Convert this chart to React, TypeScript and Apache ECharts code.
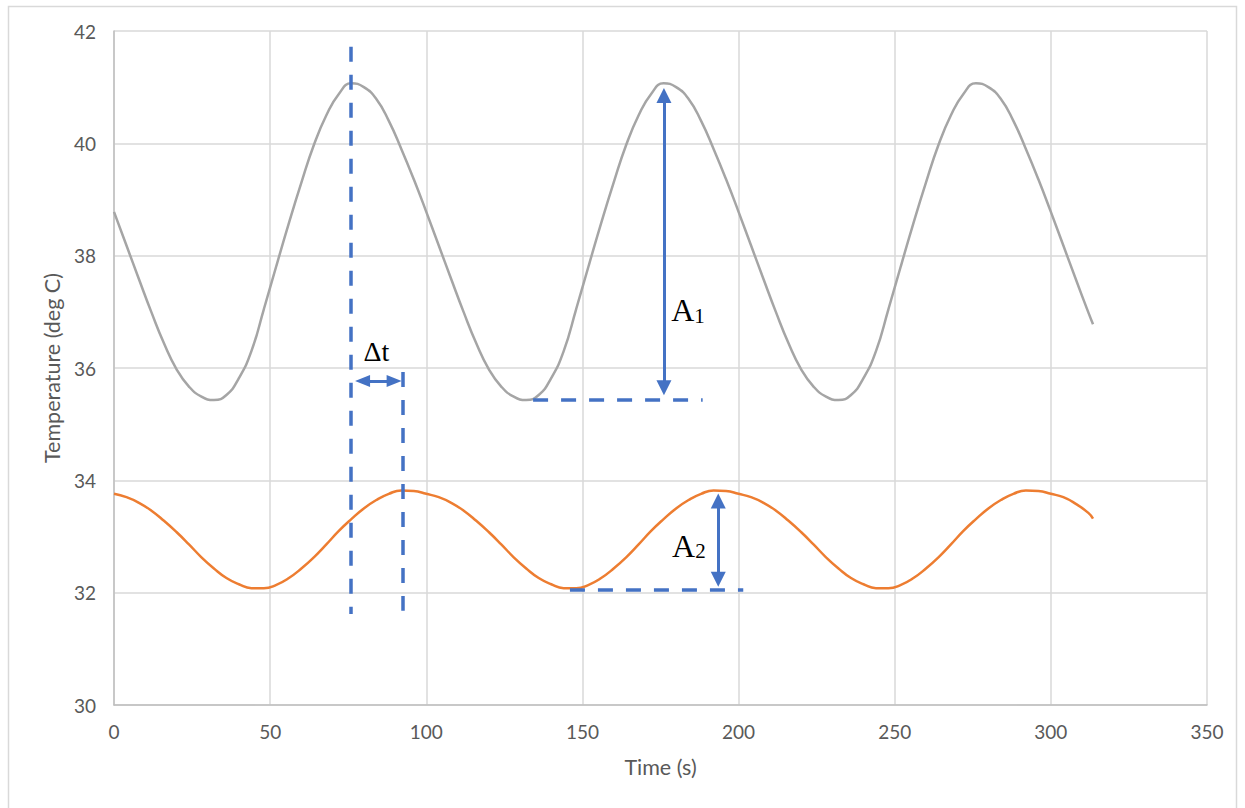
import React, { useEffect, useRef } from "react";
import * as echarts from "echarts";

// Time samples (s)
const timeS = [
  0, 4, 8, 12, 16, 20, 24, 28, 32, 36, 40, 44, 48, 52, 56, 60, 64, 68, 72, 76, 80, 84, 88, 92, 96,
  100, 104, 108, 112, 116, 120, 124, 128, 132, 136, 140, 144, 148, 152, 156, 160, 164, 168, 172, 176, 180, 184, 188, 192, 196,
  200, 204, 208, 212, 216, 220, 224, 228, 232, 236, 240, 244, 248, 252, 256, 260, 264, 268, 272, 276, 280, 284, 288, 292, 296,
  300, 304, 308, 312, 313.5,
];

// Grey curve (deg C)
const greyTemp = [
  38.78, 38.18, 37.58, 36.99, 36.44, 35.98, 35.67, 35.49, 35.43, 35.52, 35.82, 36.3, 37.05, 37.82, 38.58, 39.3, 39.97, 40.5, 40.88, 41.07, 41.0, 40.79, 40.4, 39.9, 39.36,
  38.78, 38.18, 37.58, 36.99, 36.44, 35.98, 35.67, 35.49, 35.43, 35.52, 35.82, 36.3, 37.05, 37.82, 38.58, 39.3, 39.97, 40.5, 40.88, 41.07, 41.0, 40.79, 40.4, 39.9, 39.36,
  38.78, 38.18, 37.58, 36.99, 36.44, 35.98, 35.67, 35.49, 35.43, 35.52, 35.82, 36.3, 37.05, 37.82, 38.58, 39.3, 39.97, 40.5, 40.88, 41.07, 41.0, 40.79, 40.4, 39.9, 39.36,
  38.78, 38.18, 37.58, 36.99, 36.78,
];

// Orange curve (deg C)
const orangeTemp = [
  33.76, 33.7, 33.6, 33.46, 33.28, 33.08, 32.86, 32.63, 32.43, 32.26, 32.15, 32.08, 32.08, 32.14, 32.26, 32.43, 32.63, 32.86, 33.1, 33.31, 33.5, 33.65, 33.76, 33.82, 33.81,
  33.76, 33.7, 33.6, 33.46, 33.28, 33.08, 32.86, 32.63, 32.43, 32.26, 32.15, 32.08, 32.08, 32.14, 32.26, 32.43, 32.63, 32.86, 33.1, 33.31, 33.5, 33.65, 33.76, 33.82, 33.81,
  33.76, 33.7, 33.6, 33.46, 33.28, 33.08, 32.86, 32.63, 32.43, 32.26, 32.15, 32.08, 32.08, 32.14, 32.26, 32.43, 32.63, 32.86, 33.1, 33.31, 33.5, 33.65, 33.76, 33.82, 33.81,
  33.76, 33.7, 33.58, 33.42, 33.32,
];

// Axis ranges
const xRange = [0, 350, 50];
const yRange = [30, 42, 2];

// Annotation geometry in data units [t, T]
const dashedLines = [
  [[75.9, 41.72], [75.9, 31.62]],
  [[92.4, 35.93], [92.4, 31.68]],
  [[134.2, 35.43], [188.5, 35.43]],
  [[146, 32.06], [201.5, 32.06]],
];
const arrowLines = [
  [[79.6, 35.77], [89.7, 35.77]],
  [[176.1, 40.85], [176.1, 35.65]],
  [[193.5, 33.63], [193.5, 32.24]],
];
const labelPos = {
  dt: [84.0, 36.3],
  a1: [183.8, 37.05],
  a2: [184.1, 32.85],
};

const BLUE = "#4472c4";
const AXIS_FONT = "Lato";
const SERIF = "Liberation Serif";

export default function App() {
  const ref = useRef<HTMLDivElement>(null);
  useEffect(() => {
    if (!ref.current) return;
    const chart = echarts.init(ref.current, null, { renderer: "svg" });
    const richSub = (n: string) => ({
      formatter: `{a|A}{s|${n}}`,
      rich: {
        a: { fontFamily: SERIF, fontSize: 32, color: "#000", verticalAlign: "bottom", lineHeight: 34 },
        s: { fontFamily: SERIF, fontSize: 21, color: "#000", verticalAlign: "bottom", lineHeight: 30 },
      },
    });
    chart.setOption({
      animation: false,
      backgroundColor: "#fff",
      grid: { left: 114, top: 31, right: 38, bottom: 103, containLabel: false },
      graphic: [
        {
          type: "rect",
          shape: { x: 8.5, y: 6.5, width: 1228, height: 820 },
          style: { fill: "none", stroke: "#d9d9d9", lineWidth: 1.5 },
          silent: true,
        },
      ],
      xAxis: {
        type: "value",
        min: xRange[0],
        max: xRange[1],
        interval: xRange[2],
        name: "Time (s)",
        nameLocation: "middle",
        nameGap: 51,
        nameTextStyle: { color: "#595959", fontSize: 21.5, fontFamily: AXIS_FONT },
        axisLine: { show: true, lineStyle: { color: "#bfbfbf", width: 1.5 } },
        axisTick: { show: false },
        axisLabel: { color: "#595959", fontSize: 19, fontFamily: AXIS_FONT, margin: 17 },
        splitLine: { show: true, lineStyle: { color: "#d9d9d9", width: 1.5 } },
      },
      yAxis: {
        type: "value",
        min: yRange[0],
        max: yRange[1],
        interval: yRange[2],
        name: "Temperature (deg C)",
        nameLocation: "middle",
        nameGap: 51,
        nameTextStyle: { color: "#595959", fontSize: 21.5, fontFamily: AXIS_FONT },
        axisLine: { show: true, lineStyle: { color: "#bfbfbf", width: 1.5 } },
        axisTick: { show: false },
        axisLabel: { color: "#595959", fontSize: 19, fontFamily: AXIS_FONT, margin: 18 },
        splitLine: { show: true, lineStyle: { color: "#d9d9d9", width: 1.5 } },
      },
      series: [
        {
          type: "line",
          name: "grey",
          data: timeS.map((t, i) => [t, greyTemp[i]]),
          smooth: 0.5,
          showSymbol: false,
          symbol: "none",
          lineStyle: { color: "#a5a5a5", width: 2.5 },
          itemStyle: { color: "#a5a5a5" },
          z: 2,
          markLine: {
            silent: true,
            animation: false,
            symbol: ["none", "none"],
            label: { show: false },
            emphasis: { disabled: true },
            lineStyle: { color: BLUE, width: 3.5, type: [15, 13] },
            data: [
              ...dashedLines.map(([p, q]) => [{ coord: p }, { coord: q }]),
              ...arrowLines.map(([p, q], i) => [
                {
                  coord: p,
                  symbol: "triangle",
                  symbolSize: i === 0 ? [12, 15] : [15, 15],
                  lineStyle: { color: BLUE, width: 3, type: "solid" },
                },
                { coord: q, symbol: "triangle", symbolSize: i === 0 ? [12, 15] : [15, 15] },
              ]),
            ],
          },
          markPoint: {
            silent: true,
            animation: false,
            symbol: "circle",
            symbolSize: 1,
            itemStyle: { color: "rgba(0,0,0,0)" },
            label: { show: true, position: "inside", color: "#000", fontFamily: SERIF },
            data: [
              { coord: labelPos.dt, label: { formatter: "Δt", fontSize: 28, fontFamily: SERIF, color: "#000" } },
              { coord: labelPos.a1, label: richSub("1") },
              { coord: labelPos.a2, label: richSub("2") },
            ],
          },
        },
        {
          type: "line",
          name: "orange",
          data: timeS.map((t, i) => [t, orangeTemp[i]]),
          smooth: 0.5,
          showSymbol: false,
          symbol: "none",
          lineStyle: { color: "#ed7d31", width: 2.5 },
          itemStyle: { color: "#ed7d31" },
          z: 2,
        },
      ],
    });
    return () => chart.dispose();
  }, []);
  return (
    <div
      ref={ref}
      style={{ position: "absolute", left: 0, top: 0, width: 1245, height: 808, background: "#fff" }}
    />
  );
}
